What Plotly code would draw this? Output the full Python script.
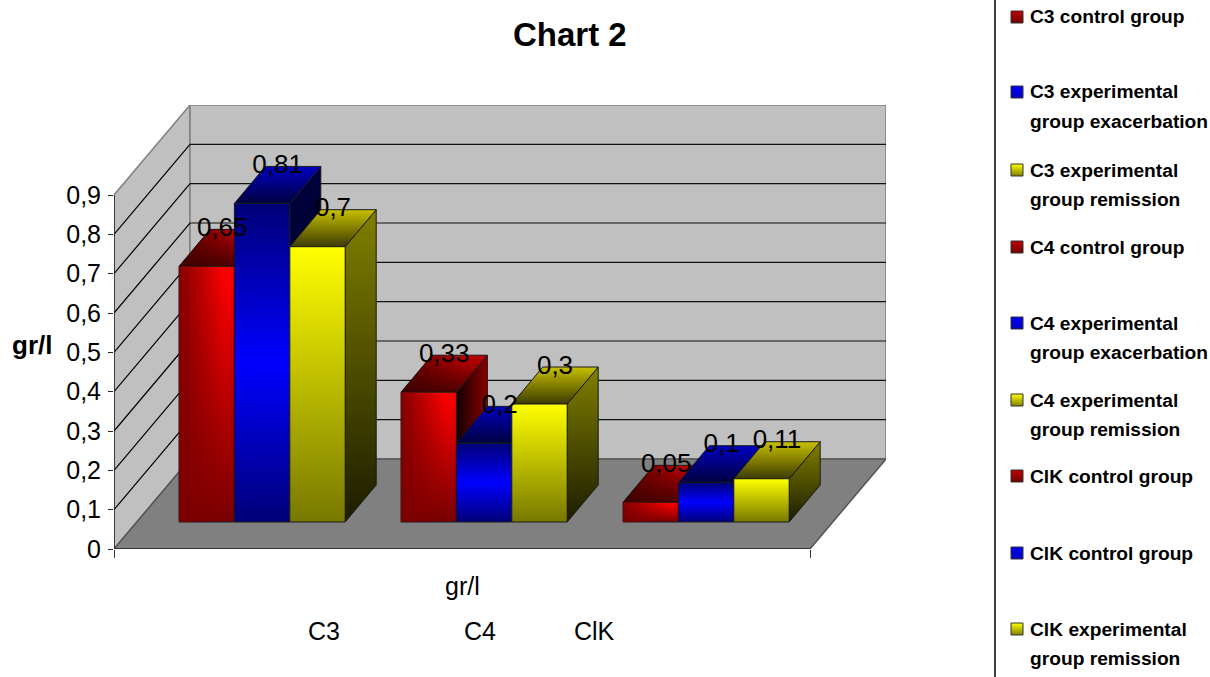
import plotly.graph_objects as go

# Values per complement fraction (control, exacerbation, remission)
groups = ["C3", "C4", "ClK"]
control_values = [0.65, 0.33, 0.05]
exacerbation_values = [0.81, 0.2, 0.1]
remission_values = [0.7, 0.3, 0.11]
y_ticks = [0, 0.1, 0.2, 0.3, 0.4, 0.5, 0.6, 0.7, 0.8, 0.9]
y_tick_text = ["0", "0,1", "0,2", "0,3", "0,4", "0,5", "0,6", "0,7", "0,8", "0,9"]
legend_entries = [
    ("red", ["C3 control group"]),
    ("blue", ["C3 experimental", "group exacerbation"]),
    ("yellow", ["C3 experimental", "group remission"]),
    ("red", ["C4 control group"]),
    ("blue", ["C4 experimental", "group exacerbation"]),
    ("yellow", ["C4 experimental", "group remission"]),
    ("red", ["ClK control group"]),
    ("blue", ["ClK control group"]),
    ("yellow", ["ClK experimental", "group remission"]),
]
legend_rows = [17, 92, 170, 247, 323, 400, 476, 553, 629]
swatch_colors = {
    "red": ("#c00000", "#700000"),
    "blue": ("#0000f0", "#0000c0"),
    "yellow": ("#ffff00", "#808000"),
}

FIG_W, FIG_H = 1210, 677
FONT = "Liberation Sans"

# Oblique projection used for the pseudo 3D box, in axis units
BAR_W = 1.0
PX_PER_BAR = 55.4
PX_PER_VALUE = 393.3
WALL_DX, WALL_DY = 76 / PX_PER_BAR, 90 / PX_PER_VALUE
BAR_DX, BAR_DY = 31 / PX_PER_BAR, 37 / PX_PER_VALUE
FLOOR_Y = 27 / PX_PER_VALUE
GROUP_X0, GROUP_STEP = 65 / PX_PER_BAR, 222 / PX_PER_BAR
FRONT_W = 696 / PX_PER_BAR
X_MAX = FRONT_W + WALL_DX
Y_MAX = 444 / PX_PER_VALUE

fig = go.Figure()


def face(xs, ys, kind, stops, outline="#1a1a1a", width=1):
    lo, hi = (min(xs), max(xs)) if kind == "horizontal" else (min(ys), max(ys))
    fig.add_trace(go.Scatter(
        x=xs + xs[:1], y=ys + ys[:1], mode="lines", fill="toself",
        line=dict(color=outline, width=width),
        fillgradient=dict(type=kind, start=lo, stop=hi, colorscale=stops),
        hoverinfo="skip", showlegend=False,
    ))


def draw_bar(x0, value, palette):
    x1 = x0 + BAR_W
    y0 = FLOOR_Y
    y1 = FLOOR_Y + value
    clear = dict(outline="rgba(0,0,0,0)", width=0)
    top_xs = [x0, x1, x1 + BAR_DX, x0 + BAR_DX]
    top_ys = [y1, y1, y1 + BAR_DY, y1 + BAR_DY]
    # right side, then top, then the front on top of both
    face([x1, x1 + BAR_DX, x1 + BAR_DX, x1],
         [y0, y0 + BAR_DY, y1 + BAR_DY, y1], *palette["side"])
    face(top_xs, top_ys, *palette["top"])
    if "top_shade" in palette:
        face(top_xs, top_ys, *palette["top_shade"], **clear)
    face([x0, x1, x1, x0], [y0, y0, y1, y1], *palette["front"])
    if "shade" in palette:
        face([x0, x1, x1, x0], [y0, y0, y1, y1], *palette["shade"], **clear)


RED = {
    "side": ("horizontal", [[0, "#120000"], [1, "#8a0000"]]),
    "top": ("vertical", [[0, "#4a0000"], [1, "#c00000"]]),
    "top_shade": ("horizontal", [[0, "rgba(60,0,0,0.8)"], [0.7, "rgba(60,0,0,0)"], [1, "rgba(60,0,0,0)"]]),
    "front": ("vertical", [[0, "#780000"], [1, "#ff0000"]]),
    "shade": ("horizontal", [[0, "rgba(125,0,0,0.97)"], [0.8, "rgba(125,0,0,0)"], [1, "rgba(125,0,0,0)"]]),
}
BLUE = {
    "side": ("vertical", [[0, "#000028"], [1, "#00003c"]]),
    "top": ("vertical", [[0, "#000040"], [1, "#0000c0"]]),
    "front": ("vertical", [[0, "#000078"], [0.5, "#0000ff"], [1, "#000078"]]),
}
YELLOW = {
    "side": ("vertical", [[0, "#1c1c00"], [1, "#808000"]]),
    "top": ("vertical", [[0, "#3c3c00"], [1, "#c8c000"]]),
    "front": ("vertical", [[0, "#787800"], [1, "#ffff00"]]),
}

series = [control_values, exacerbation_values, remission_values]
palettes = [RED, BLUE, YELLOW]

for g in range(len(groups)):
    for s, (values, palette) in enumerate(zip(series, palettes)):
        draw_bar(GROUP_X0 + g * GROUP_STEP + s * BAR_W, values[g], palette)

# Value labels sit over the back edge of each bar's top face
label_x, label_y, label_text = [], [], []
for g in range(len(groups)):
    for s, values in enumerate(series):
        label_x.append(GROUP_X0 + g * GROUP_STEP + s * BAR_W + BAR_W / 2 + BAR_DX / 2)
        label_y.append(FLOOR_Y + values[g] + BAR_DY)
        label_text.append(f"{values[g]:g}".replace(".", ","))
fig.add_trace(go.Scatter(
    x=label_x, y=label_y, text=label_text, mode="text",
    textposition="middle center", cliponaxis=False,
    textfont=dict(family=FONT, size=26, color="#000000"),
    hoverinfo="skip", showlegend=False,
))

# Axis edges that stop short of the full plot box
fig.add_trace(go.Scatter(x=[0, 0, FRONT_W], y=[y_ticks[-1], 0, 0], mode="lines",
                         line=dict(color="#222222", width=1.5), cliponaxis=False,
                         hoverinfo="skip", showlegend=False))

# Walls, floor and grid of the box
shapes = []


def polygon(points, fill, edge, width=1.5):
    path = "M " + " L ".join(f"{x},{y}" for x, y in points) + " Z"
    shapes.append(dict(type="path", path=path, xref="x", yref="y", layer="below",
                       fillcolor=fill, line=dict(color=edge, width=width)))


top = y_ticks[-1]
polygon([(0, 0), (0, top), (WALL_DX, top + WALL_DY), (WALL_DX, WALL_DY)], "#c0c0c0", "#808080")
polygon([(WALL_DX, WALL_DY), (WALL_DX, top + WALL_DY), (X_MAX, top + WALL_DY), (X_MAX, WALL_DY)],
        "#c0c0c0", "#808080")
polygon([(0, 0), (FRONT_W, 0), (X_MAX, WALL_DY), (WALL_DX, WALL_DY)], "#808080", "#555555")
for tick in y_ticks[1:-1]:
    shapes.append(dict(type="line", xref="x", yref="y", layer="below",
                       x0=0, y0=tick, x1=WALL_DX, y1=tick + WALL_DY,
                       line=dict(color="#000000", width=1.2)))
    shapes.append(dict(type="line", xref="x", yref="y", layer="below",
                       x0=WALL_DX, y0=tick + WALL_DY, x1=X_MAX, y1=tick + WALL_DY,
                       line=dict(color="#111111", width=1.2)))
# Separator at the left of the key
shapes.append(dict(type="line", xref="paper", yref="paper", x0=995 / FIG_W, x1=995 / FIG_W,
                   y0=0, y1=1, line=dict(color="#000000", width=1.5)))

annotations = []


def px_text(text, x, y, size, bold=False, anchor="left"):
    annotations.append(dict(
        text=f"<b>{text}</b>" if bold else text, xref="paper", yref="paper",
        x=x / FIG_W, y=1 - y / FIG_H, xanchor=anchor, yanchor="middle",
        showarrow=False, font=dict(family=FONT, size=size, color="#000000"),
    ))


px_text("Chart 2", 570, 35, 33, bold=True, anchor="center")
px_text("gr/l", 32, 345, 26, bold=True, anchor="center")
px_text("gr/l", 462, 586, 25, anchor="center")
for name, x in zip(groups, [324, 480, 594]):
    px_text(name, x, 631, 25, anchor="center")

# Hand-placed key: row spacing varies, so it is built from text and swatches
for (color, lines), row in zip(legend_entries, legend_rows):
    start, end = swatch_colors[color]
    fig.add_trace(go.Scatter(
        x=[1017 / FIG_W], y=[1 - row / FIG_H], xaxis="x2", yaxis="y2", mode="markers",
        marker=dict(symbol="square", size=12, color=start,
                    gradient=dict(type="vertical", color=end),
                    line=dict(color="#333333", width=1)),
        hoverinfo="skip", showlegend=False,
    ))
    for i, line in enumerate(lines):
        px_text(line, 1028, row + i * 29.5, 19.2, bold=True)

fig.update_layout(
    width=FIG_W, height=FIG_H, autosize=False,
    margin=dict(l=0, r=0, t=0, b=0, autoexpand=False),
    paper_bgcolor="#ffffff", plot_bgcolor="rgba(0,0,0,0)",
    showlegend=False, shapes=shapes, annotations=annotations,
    font=dict(family=FONT, color="#000000"),
    xaxis=dict(
        domain=[114 / FIG_W, 886 / FIG_W], range=[0, X_MAX],
        tickmode="array", tickvals=[0, FRONT_W], showticklabels=False,
        ticks="outside", ticklen=8, tickcolor="#333333", tickwidth=1,
        showgrid=False, zeroline=False, showline=False,
    ),
    yaxis=dict(
        domain=[(FIG_H - 549) / FIG_H, (FIG_H - 105) / FIG_H], range=[0, Y_MAX],
        tickmode="array", tickvals=y_ticks, ticktext=y_tick_text,
        ticks="outside", ticklen=5, tickcolor="#222222", tickwidth=1,
        ticklabelstandoff=2,
        tickfont=dict(family=FONT, size=25, color="#000000"),
        showgrid=False, zeroline=False, showline=False,
    ),
    xaxis2=dict(domain=[0, 1], range=[0, 1], visible=False, anchor="y2"),
    yaxis2=dict(domain=[0, 1], range=[0, 1], visible=False, anchor="x2"),
)

fig.write_html("out.html", config=dict(displayModeBar=False))
